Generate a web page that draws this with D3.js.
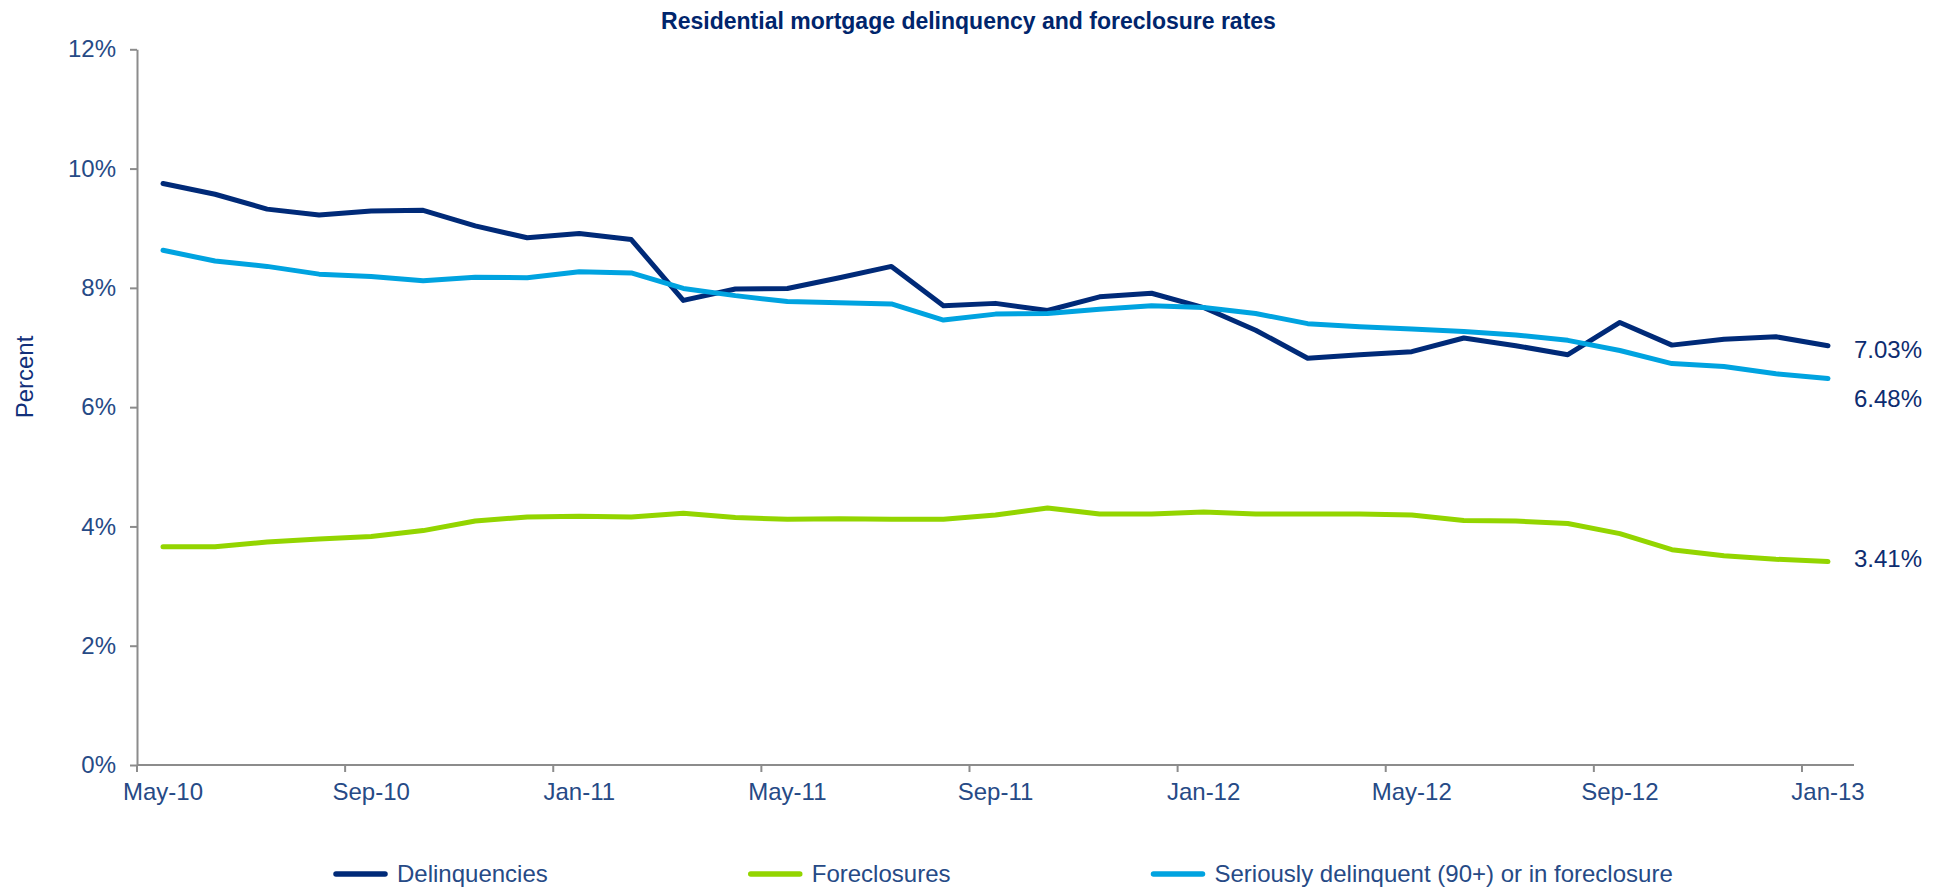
<!DOCTYPE html>
<html>
<head>
<meta charset="utf-8">
<script src="https://cdn.jsdelivr.net/npm/d3@7"></script>
<style>
  html, body { margin: 0; padding: 0; background: #ffffff; }
  svg { display: block; font-family: Arial, "Liberation Sans", sans-serif; }
</style>
</head>
<body>
<svg id="chart" width="1937" height="888"></svg>
<script>
// Monthly observations, May 2010 – January 2013
const months = [
  "May-10","Jun-10","Jul-10","Aug-10","Sep-10","Oct-10","Nov-10","Dec-10",
  "Jan-11","Feb-11","Mar-11","Apr-11","May-11","Jun-11","Jul-11","Aug-11",
  "Sep-11","Oct-11","Nov-11","Dec-11","Jan-12","Feb-12","Mar-12","Apr-12",
  "May-12","Jun-12","Jul-12","Aug-12","Sep-12","Oct-12","Nov-12","Dec-12",
  "Jan-13"
];

// Rates in percent
const delinquencies = [
  9.75, 9.57, 9.32, 9.22, 9.29, 9.30, 9.04, 8.84,
  8.91, 8.81, 7.79, 7.98, 7.99, 8.17, 8.36, 7.70,
  7.74, 7.62, 7.85, 7.91, 7.67, 7.29, 6.82, 6.88,
  6.93, 7.16, 7.03, 6.88, 7.42, 7.04, 7.14, 7.18,
  7.03
];
const foreclosures = [
  3.66, 3.66, 3.74, 3.79, 3.83, 3.93, 4.09, 4.16,
  4.17, 4.16, 4.22, 4.15, 4.12, 4.13, 4.12, 4.12,
  4.19, 4.31, 4.21, 4.21, 4.24, 4.21, 4.21, 4.21,
  4.19, 4.10, 4.09, 4.05, 3.88, 3.61, 3.51, 3.45,
  3.41
];
const seriouslyDelinquent = [
  8.63, 8.45, 8.36, 8.23, 8.19, 8.12, 8.18, 8.17,
  8.27, 8.25, 7.99, 7.87, 7.77, 7.75, 7.73, 7.46,
  7.56, 7.57, 7.64, 7.70, 7.67, 7.57, 7.40, 7.35,
  7.31, 7.27, 7.21, 7.12, 6.95, 6.73, 6.68, 6.56,
  6.48
];

const seriesNames = ["Delinquencies", "Foreclosures", "Seriously delinquent (90+) or in foreclosure"];
const xTickLabels = ["May-10","Sep-10","Jan-11","May-11","Sep-11","Jan-12","May-12","Sep-12","Jan-13"];
const yTickValues = [0, 2, 4, 6, 8, 10, 12];
const chartTitle = "Residential mortgage delinquency and foreclosure rates";
const yAxisTitle = "Percent";

// ---- styling ----
const colors = {
  "Delinquencies": "#002A78",
  "Foreclosures": "#93D500",
  "Seriously delinquent (90+) or in foreclosure": "#00A3E0"
};
const textColor = "#264A86";
const darkText = "#0D2C70";
const axisColor = "#8C8C8C";
const fontSize = 24;
const titleSize = 23;

const svg = d3.select("#chart");
const plot = { left: 137, right: 1854, top: 49.3, bottom: 765 };

const x = d3.scaleBand().domain(months).range([plot.left, plot.right]).paddingInner(0).paddingOuter(0);
const y = d3.scaleLinear().domain([0, 12]).range([plot.bottom, plot.top]);
const xc = m => x(m) + x.bandwidth() / 2;

const series = [
  { name: seriesNames[0], values: delinquencies },
  { name: seriesNames[1], values: foreclosures },
  { name: seriesNames[2], values: seriouslyDelinquent }
];

// Title
svg.append("text")
  .attr("x", 968.5).attr("y", 29)
  .attr("text-anchor", "middle")
  .attr("font-size", titleSize).attr("font-weight", "bold")
  .attr("fill", "#00256C")
  .text(chartTitle);

// Y axis
const yAxis = svg.append("g")
  .attr("transform", `translate(${plot.left},0)`)
  .call(d3.axisLeft(y).tickValues(yTickValues).tickSize(7).tickSizeOuter(0).tickPadding(14).tickFormat(d => d + "%"));
yAxis.select(".domain").attr("stroke", axisColor).attr("stroke-width", 2);
yAxis.selectAll(".tick line").attr("stroke", axisColor).attr("stroke-width", 2);
yAxis.selectAll(".tick text")
  .attr("fill", textColor).attr("font-size", fontSize)
  .attr("font-family", "Arial, 'Liberation Sans', sans-serif");

// X axis: labels centred on months, tick marks on month boundaries
const xAxis = svg.append("g")
  .attr("transform", `translate(0,${plot.bottom})`)
  .call(d3.axisBottom(x).tickValues(xTickLabels).tickSize(7).tickSizeOuter(0).tickPadding(11));
xAxis.select(".domain").attr("stroke", axisColor).attr("stroke-width", 2)
  .attr("d", `M${plot.left},0H${plot.right}`);
xAxis.selectAll(".tick line")
  .attr("stroke", axisColor).attr("stroke-width", 2)
  .attr("x1", -x.bandwidth() / 2).attr("x2", -x.bandwidth() / 2);
xAxis.selectAll(".tick text")
  .attr("fill", textColor).attr("font-size", fontSize)
  .attr("font-family", "Arial, 'Liberation Sans', sans-serif");

// Y axis title
svg.append("text")
  .attr("transform", "translate(33,377) rotate(-90)")
  .attr("text-anchor", "middle")
  .attr("font-size", fontSize)
  .attr("fill", "#12307A")
  .text(yAxisTitle);

// Lines
const line = d3.line()
  .x((d, i) => xc(months[i]))
  .y(d => y(d));

svg.append("g").selectAll("path")
  .data(series)
  .join("path")
  .attr("d", s => line(s.values))
  .attr("fill", "none")
  .attr("stroke", s => colors[s.name])
  .attr("stroke-width", 5)
  .attr("stroke-linecap", "round")
  .attr("stroke-linejoin", "round");

// Latest-value labels at the right end of each line
const labelNudge = { "Delinquencies": 4, "Foreclosures": -3.5, "Seriously delinquent (90+) or in foreclosure": 20 };
const last = months[months.length - 1];
svg.append("g").selectAll("text")
  .data(series)
  .join("text")
  .attr("x", xc(last) + 26)
  .attr("y", s => y(s.values[s.values.length - 1]) + labelNudge[s.name])
  .attr("dy", "0.35em")
  .attr("font-size", fontSize)
  .attr("fill", darkText)
  .text(s => s.values[s.values.length - 1].toFixed(2) + "%");

// Legend
const legend = svg.append("g").attr("transform", "translate(0,874)");
let lx = 333;
series.forEach(s => {
  const g = legend.append("g").attr("transform", `translate(${lx},0)`);
  g.append("line")
    .attr("x1", 3).attr("x2", 52).attr("y1", 0).attr("y2", 0)
    .attr("stroke", colors[s.name]).attr("stroke-width", 5.5)
    .attr("stroke-linecap", "round");
  const t = g.append("text")
    .attr("x", 64).attr("y", 0).attr("dy", "0.35em")
    .attr("font-size", fontSize)
    .attr("fill", textColor)
    .text(s.name);
  lx += 64 + t.node().getComputedTextLength() + 200;
});
</script>
</body>
</html>
